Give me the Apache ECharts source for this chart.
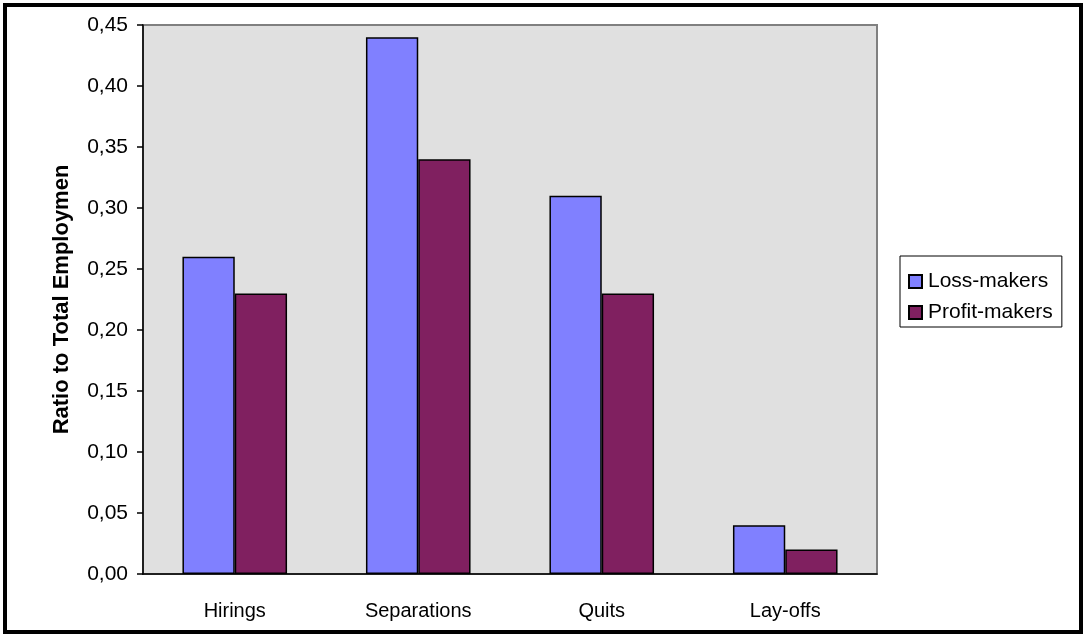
<!DOCTYPE html>
<html>
<head>
<meta charset="utf-8">
<script src="https://cdn.jsdelivr.net/npm/echarts@6/dist/echarts.min.js"></script>
<style>
  html, body { margin: 0; padding: 0; background: #fff; }
  #chart { width: 1085px; height: 635px; }
</style>
</head>
<body>
<div id="chart"></div>
<script>
const categories = ['Hirings', 'Separations', 'Quits', 'Lay-offs']
const lossMakers = [0.26, 0.44, 0.31, 0.04]
const profitMakers = [0.23, 0.34, 0.23, 0.02]
const yTitle = 'Ratio to Total Employmen'

const font = 'Liberation Sans, Arial, sans-serif'

const myChart = echarts.init(document.getElementById('chart'))

const options = {
  animation: false,
  textStyle: { fontFamily: font },
  graphic: [
    {
      type: 'rect',
      shape: { x: 5, y: 5, width: 1076, height: 627 },
      style: { fill: 'none', stroke: '#000', lineWidth: 4 }
    }
  ],
  grid: {
    left: 143,
    top: 25,
    right: 208,
    bottom: 61,
    show: true,
    backgroundColor: '#E0E0E0',
    borderColor: '#808080',
    borderWidth: 2
  },
  legend: {
    orient: 'vertical',
    left: 900,
    top: 256,
    padding: [15, 9, 4, 8],
    itemGap: 10,
    itemWidth: 13,
    itemHeight: 13,
    icon: 'rect',
    borderColor: '#000',
    borderWidth: 1,
    backgroundColor: '#fff',
    textStyle: { fontSize: 21, color: '#000', fontFamily: font, padding: [0, 0, 0, 1] },
    data: ['Loss-makers', 'Profit-makers']
  },
  xAxis: {
    type: 'category',
    data: categories,
    axisLine: { lineStyle: { color: '#000', width: 1.5 } },
    axisTick: { length: 7, lineStyle: { color: '#000', width: 1.5 } },
    axisLabel: { color: '#000', fontSize: 20, margin: 27, fontFamily: font }
  },
  yAxis: {
    type: 'value',
    min: 0,
    max: 0.45,
    interval: 0.05,
    name: yTitle,
    nameLocation: 'middle',
    nameGap: 70,
    nameTextStyle: { fontSize: 22, fontWeight: 'bold', color: '#000', fontFamily: font },
    axisLine: { show: true, lineStyle: { color: '#000', width: 1.5 } },
    axisTick: { show: true, length: 6, lineStyle: { color: '#000', width: 1.5 } },
    splitLine: { show: false },
    axisLabel: {
      color: '#000',
      fontSize: 21,
      margin: 15,
      fontFamily: font,
      formatter: (v) => v.toFixed(2).replace('.', ',')
    }
  },
  series: [
    {
      name: 'Loss-makers',
      type: 'bar',
      data: lossMakers,
      barGap: '0%',
      barCategoryGap: '43%',
      itemStyle: { color: '#8080FF', borderColor: '#000', borderWidth: 1.5 }
    },
    {
      name: 'Profit-makers',
      type: 'bar',
      data: profitMakers,
      itemStyle: { color: '#802060', borderColor: '#000', borderWidth: 1.5 }
    }
  ]
}

myChart.setOption(options)
</script>
</body>
</html>
